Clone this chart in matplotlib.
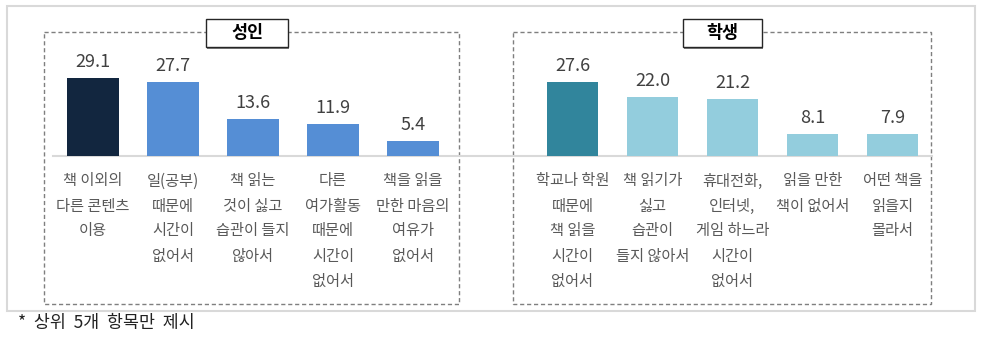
import matplotlib.pyplot as plt
from matplotlib.patches import Rectangle
from matplotlib.lines import Line2D

plt.rcParams['font.family'] = ['Noto Sans CJK KR', 'DejaVu Sans']

# ---------------------------- data ----------------------------
adult_labels = ['책 이외의\n다른 콘텐츠\n이용', '일(공부)\n때문에\n시간이\n없어서',
                '책 읽는\n것이 싫고\n습관이 들지\n않아서', '다른\n여가활동\n때문에\n시간이\n없어서',
                '책을 읽을\n만한 마음의\n여유가\n없어서']
adult_values = [29.1, 27.7, 13.6, 11.9, 5.4]
adult_colors = ['#12263F', '#558ED5', '#558ED5', '#558ED5', '#558ED5']

student_labels = ['학교나 학원\n때문에\n책 읽을\n시간이\n없어서', '책 읽기가\n싫고\n습관이\n들지 않아서',
                  '휴대전화,\n인터넷,\n게임 하느라\n시간이\n없어서', '읽을 만한\n책이 없어서',
                  '어떤 책을\n읽을지\n몰라서']
student_values = [27.6, 22.0, 21.2, 8.1, 7.9]
student_colors = ['#31859C', '#93CDDD', '#93CDDD', '#93CDDD', '#93CDDD']

W, H = 982, 339
fig = plt.figure(figsize=(W / 100, H / 100), dpi=100)

# background axes in pixel units for frames and boxes
bg = fig.add_axes([0, 0, 1, 1])
bg.set_xlim(0, W)
bg.set_ylim(H, 0)
bg.axis('off')
bg.set_zorder(0)

bg.add_patch(Rectangle((7, 6), 968, 305, fill=False, ec='#d9d9d9', lw=1.5))
for x0, x1 in [(44, 459), (513, 931)]:
    bg.add_patch(Rectangle((x0, 32), x1 - x0, 272, fill=False, ec='#7f7f7f',
                           lw=1, ls=(0, (3, 2))))
bg.add_line(Line2D([53, 932], [155.5, 155.5], color='#d9d9d9', lw=1.5))

for (x0, x1), title in [((206, 288), '성인'), ((683, 762), '학생')]:
    bg.add_patch(Rectangle((x0 + 1.5, 20.5), x1 - x0, 28, fc='#7f7f7f', ec='none'))
    bg.add_patch(Rectangle((x0, 19), x1 - x0, 28, fc='white', ec='#262626', lw=1))
    bg.text((x0 + x1) / 2, 33, title, ha='center', va='center',
            fontsize=12.5, fontweight='bold', color='black')

bg.text(18, 323, '*  상위  5개  항목만  제시', ha='left', va='center',
        fontsize=12.5, color='#222222')

base_y = 155.5
ax_h = 100.0


def draw_panel(left_px, labels, values, colors):
    ax = fig.add_axes([left_px / W, (H - base_y) / H, 400 / W, ax_h / H])
    ax.set_zorder(1)
    ax.patch.set_alpha(0)
    ax.set_xlim(-0.5, 4.5)
    ax.set_ylim(0, ax_h / 2.67)
    ax.axis('off')
    xs = range(len(values))
    ax.bar(xs, values, width=0.64, color=colors)
    for i, v in zip(xs, values):
        ax.annotate(f'{v:.1f}', xy=(i, v), xytext=(0, 11.5), textcoords='offset points',
                    ha='center', va='center', fontsize=13, color='#404040')
        for k, line in enumerate(labels[i].split('\n')):
            ax.annotate(line, xy=(i, 0), xytext=(0, -(25.5 + 25 * k) * 0.72),
                        textcoords='offset points', ha='center', va='center',
                        fontsize=11, color='#595959', annotation_clip=False)
    return ax


draw_panel(53, adult_labels, adult_values, adult_colors)
draw_panel(532.5, student_labels, student_values, student_colors)

fig.savefig('out.png', dpi=100)
